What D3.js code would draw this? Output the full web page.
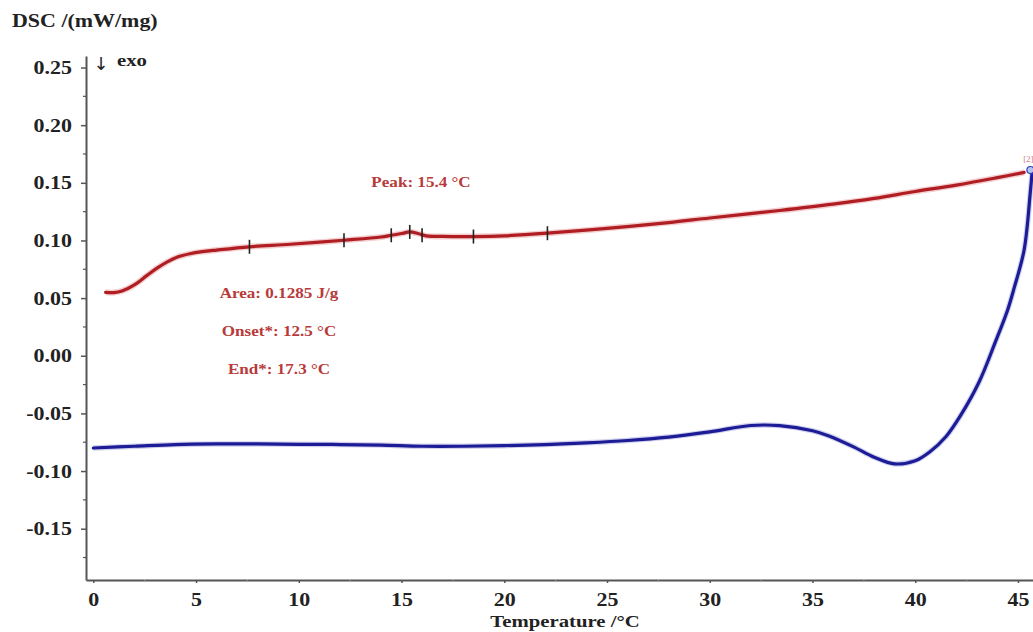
<!DOCTYPE html>
<html>
<head>
<meta charset="utf-8">
<script src="https://cdn.jsdelivr.net/npm/d3@7"></script>
<style>
  html, body { margin: 0; padding: 0; background: #fff; }
  svg { display: block; }
  text { font-family: "Liberation Serif", "Times New Roman", serif; font-weight: bold; }
</style>
</head>
<body>
<svg id="chart" width="1033" height="632"></svg>
<script>
// ---------------- data ----------------
const xTicks = [0, 5, 10, 15, 20, 25, 30, 35, 40, 45];
const yTicks = [0.25, 0.20, 0.15, 0.10, 0.05, 0.00, -0.05, -0.10, -0.15];

const redT = [0.6, 1.0, 1.4, 2.0, 2.6, 3.1, 3.6, 4.1, 4.7, 5.3, 6.0, 7.6, 9.6, 12.2, 14.0, 14.5, 15.0, 15.4, 15.8, 16.2, 17.0, 18.5, 20.0, 22.1, 25, 28, 30, 33.4, 36, 38, 40, 42, 44, 45.3];
const redV = [0.055, 0.0548, 0.0562, 0.0615, 0.0695, 0.0760, 0.0815, 0.0857, 0.0885, 0.0903, 0.0917, 0.0945, 0.0967, 0.1002, 0.103, 0.1045, 0.106, 0.1074, 0.106, 0.104, 0.1035, 0.1034, 0.104, 0.1063, 0.1105, 0.1155, 0.1195, 0.126, 0.1315, 0.1365, 0.1425, 0.148, 0.1545, 0.159];

const blueT = [0, 2, 4, 6, 8, 10, 12, 14, 16, 18, 20, 22, 24, 26, 28, 30, 32, 33.4, 35, 35.8, 37, 38, 39, 40, 40.7, 41.5, 42.2, 43.1, 43.9, 44.5, 44.8, 45.3, 45.6, 45.7];
const blueV = [-0.080, -0.0785, -0.077, -0.0765, -0.0765, -0.0768, -0.077, -0.0775, -0.0785, -0.0785, -0.078, -0.077, -0.0755, -0.0735, -0.0705, -0.066, -0.0605, -0.0606, -0.065, -0.0695, -0.079, -0.088, -0.0938, -0.091, -0.0834, -0.070, -0.052, -0.023, 0.012, 0.040, 0.058, 0.092, 0.142, 0.162];

const markT = [7.6, 12.2, 14.5, 15.4, 16.0, 18.5, 22.1];
const markV = [0.0945, 0.1002, 0.1045, 0.1074, 0.1045, 0.1034, 0.1063];

const annotations = ["Area: 0.1285 J/g", "Onset*: 12.5 °C", "End*: 17.3 °C"];
const peakLabel = "Peak: 15.4 °C";

// ---------------- layout ----------------
const svg = d3.select("#chart");
const SX = 1.22; // horizontal stretch of the reference typography

const x = d3.scaleLinear().domain([-0.355, 45.73]).range([86, 1033]);
const y = d3.scaleLinear().domain([-0.1945, 0.26]).range([580, 56]);

const fmtY = d => d3.format(".2f")(d).replace(/\u2212/g, "-");

// ---------------- axes ----------------
const axisColor = "#555";
const yAxis = svg.append("g").attr("transform", `translate(${x(-0.355)},0)`)
  .call(d3.axisLeft(y).tickValues(yTicks).tickSize(5).tickSizeOuter(0).tickFormat(fmtY));
yAxis.select(".domain").attr("stroke", axisColor).attr("stroke-width", 2);
yAxis.selectAll(".tick line").attr("stroke", axisColor).attr("stroke-width", 1.5);
yAxis.selectAll(".tick text")
  .attr("x", null).attr("dy", null)
  .attr("transform", `translate(-14,6) scale(${SX},1)`)
  .attr("font-size", 18).attr("fill", "#222")
  .style("font-family", '"Liberation Serif", serif').style("font-weight", "bold");
// minor y ticks
const yMinor = d3.range(-0.175, 0.26, 0.05);
svg.append("g").selectAll("line").data(yMinor).join("line")
  .attr("x1", x(-0.355) - 3).attr("x2", x(-0.355))
  .attr("y1", d => y(d)).attr("y2", d => y(d))
  .attr("stroke", axisColor).attr("stroke-width", 1.2);

const xAxis = svg.append("g").attr("transform", `translate(0,${y(-0.1945)})`)
  .call(d3.axisBottom(x).tickValues(xTicks).tickSize(3).tickSizeOuter(0).tickFormat(d3.format("d")));
xAxis.select(".domain").attr("stroke", axisColor).attr("stroke-width", 2);
xAxis.selectAll(".tick line").attr("stroke", axisColor).attr("stroke-width", 1.5);
xAxis.selectAll(".tick text")
  .attr("y", null).attr("dy", null)
  .attr("transform", `translate(0,26) scale(${SX},1)`)
  .attr("font-size", 18).attr("fill", "#222")
  .style("font-family", '"Liberation Serif", serif').style("font-weight", "bold");
const xMinor = d3.range(2.5, 45.7, 5);
svg.append("g").selectAll("line").data(xMinor).join("line")
  .attr("x1", d => x(d)).attr("x2", d => x(d))
  .attr("y1", y(-0.1945)).attr("y2", y(-0.1945) + 2)
  .attr("stroke", "#999").attr("stroke-width", 1);

// ---------------- titles ----------------
function stretchedText(txt, tx, ty, size, anchor, fill) {
  return svg.append("text").text(txt)
    .attr("transform", `translate(${tx},${ty}) scale(${SX},1)`)
    .attr("text-anchor", anchor).attr("font-size", size).attr("fill", fill);
}
stretchedText("DSC /(mW/mg)", 12, 27, 18, "start", "#222");
stretchedText("Temperature /°C", 565, 627, 17, "middle", "#222");
svg.append("text").text("↓").attr("x", 101).attr("y", 70).attr("text-anchor", "middle")
  .attr("font-size", 18).attr("fill", "#222")
  .style("font-family", '"DejaVu Sans", sans-serif').style("font-weight", "normal");
stretchedText("exo", 117, 66, 17, "start", "#222");

// ---------------- curves ----------------
const line = d3.line().x(d => x(d[0])).y(d => y(d[1])).curve(d3.curveCatmullRom.alpha(0.5));
const redData = redT.map((t, i) => [t, redV[i]]);
const blueData = blueT.map((t, i) => [t, blueV[i]]);

svg.append("path").datum(redData).attr("d", line)
  .attr("fill", "none").attr("stroke", "#e8a0a0").attr("stroke-width", 6).attr("stroke-opacity", 0.5);
svg.append("path").datum(redData).attr("d", line)
  .attr("fill", "none").attr("stroke", "#b01e24").attr("stroke-width", 3.2).attr("stroke-linecap", "round");

svg.append("path").datum(blueData).attr("d", line)
  .attr("fill", "none").attr("stroke", "#9a9ad8").attr("stroke-width", 5.5).attr("stroke-opacity", 0.45);
svg.append("path").datum(blueData).attr("d", line)
  .attr("fill", "none").attr("stroke", "#1c1c96").attr("stroke-width", 3.2).attr("stroke-linecap", "round");

// evaluation markers on the red curve
svg.append("g").selectAll("line").data(markT.map((t, i) => [t, markV[i]])).join("line")
  .attr("x1", d => x(d[0])).attr("x2", d => x(d[0]))
  .attr("y1", d => y(d[1]) - 7).attr("y2", d => y(d[1]) + 7)
  .attr("stroke", "#222").attr("stroke-width", 1.6);

// end markers
const endT = blueT[blueT.length - 1];
const endV = blueV[blueV.length - 1];
svg.append("circle").attr("cx", x(endT) - 2).attr("cy", y(endV) + 1).attr("r", 3.5)
  .attr("fill", "#b8c4f0").attr("stroke", "#3040b0").attr("stroke-width", 1.2);
svg.append("text").text("[2]").attr("x", x(endT) - 4).attr("y", y(endV) - 7)
  .attr("text-anchor", "middle").attr("font-size", 9).attr("fill", "#d08080")
  .style("font-weight", "normal");

// ---------------- annotations ----------------
stretchedText(peakLabel, 421, 187, 14, "middle", "#b83a3a");
const annY = [298, 336, 374];
annotations.forEach((a, i) => stretchedText(a, 279, annY[i], 14, "middle", "#b83a3a"));
</script>
</body>
</html>
